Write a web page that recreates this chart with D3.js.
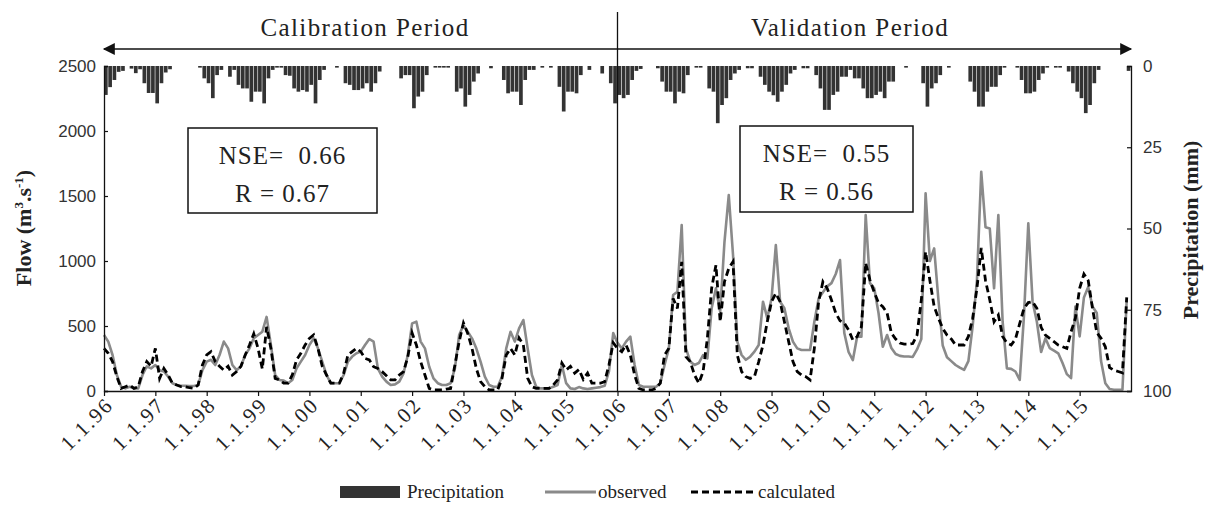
<!DOCTYPE html>
<html>
<head>
<meta charset="utf-8">
<script src="https://cdn.jsdelivr.net/npm/d3@7"></script>
<style>
  body { margin: 0; background: #fff; }
  svg { display: block; }
  .tick text { font-family: "Liberation Sans", Arial, sans-serif; fill: #333; }
  .serif { font-family: "Liberation Serif", "Times New Roman", serif; fill: #222; }
</style>
</head>
<body>
<svg id="chart"></svg>
<script>
// monthly series, Jan 1996 .. Dec 2015 (240 months)

const tickLabels = ['1.1.96','1.1.97','1.1.98','1.1.99','1.1.00','1.1.01','1.1.02','1.1.03','1.1.04','1.1.05',
                    '1.1.06','1.1.07','1.1.08','1.1.09','1.1.10','1.1.11','1.1.12','1.1.13','1.1.14','1.1.15'];

// precipitation (mm)
const precipitation = [
  8.9, 6.5, 4.3, 1.8, 1.5, 0, 0.8, 2.2, 1.0, 5.3, 8.3, 8.3,
  11.5, 5.3, 2.0, 1.0, 0, 0, 0, 0, 0, 0, 0.5, 3.8,
  5.3, 9.9, 2.8, 1.2, 0, 3.3, 1.2, 5.8, 6.9, 6.9, 11.0, 7.9,
  7.9, 11.5, 3.8, 1.2, 0.5, 0.5, 2.8, 3.0, 6.9, 7.9, 7.4, 7.9,
  5.8, 11.5, 4.3, 1.2, 0, 0, 0.5, 0, 5.3, 5.8, 7.4, 7.4,
  6.9, 5.3, 7.9, 5.3, 1.7, 0, 0, 0, 0, 3.8, 2.8, 2.8,
  13.0, 9.4, 7.9, 2.8, 0, 0.5, 0.5, 0.5, 0.5, 0, 7.9, 6.9,
  12.5, 8.9, 4.8, 2.3, 0, 0, 0.7, 0, 0, 4.3, 8.4, 7.9,
  7.9, 12.0, 4.3, 1.2, 1.2, 0, 0.5, 0, 0.5, 0, 6.4, 14.0,
  7.9, 7.9, 8.4, 2.8, 0, 1.2, 0, 0, 2.3, 0, 5.3, 11.5,
  8.9, 9.9, 8.9, 4.3, 1.5, 0.9, 0, 0, 0, 0.7, 4.8, 7.9,
  7.9, 11.5, 7.9, 8.4, 2.8, 0, 0.5, 0.5, 0, 6.9, 7.9, 17.6,
  12.0, 9.9, 4.3, 2.3, 1.2, 0, 0.7, 0.7, 0, 3.3, 5.8, 7.9,
  9.0, 11.0, 7.9, 5.8, 2.3, 1.2, 0, 0.7, 0.7, 0, 2.8, 6.9,
  13.5, 13.5, 8.9, 7.9, 3.3, 3.3, 1.2, 3.8, 3.8, 6.9, 9.9, 9.9,
  8.9, 7.9, 9.9, 4.8, 4.8, 0, 0, 0.5, 0, 0, 0, 5.3,
  12.5, 6.9, 5.3, 2.8, 0, 0.5, 0, 0, 0, 0, 4.8, 7.9,
  12.5, 12.5, 7.9, 6.4, 6.4, 2.8, 0.5, 0, 0, 0.5, 4.3, 8.4,
  8.4, 7.9, 4.3, 2.3, 0.5, 0, 0.5, 0.5, 0, 1.7, 5.3, 7.9,
  9.9, 14.5, 12.0, 5.3, 1.2, 0, 0, 0, 0, 0, 0, 1.5
];

// observed flow (m3/s)
const observed = [
  431, 380, 277, 123, 33, 20, 33, 20, 20, 123, 190, 174,
  200, 160, 150, 110, 59, 46, 40, 40, 38, 38, 46, 160,
  226, 240, 200, 277, 380, 328, 200, 160, 190, 277, 328, 405,
  431, 456, 570, 354, 123, 85, 80, 60, 85, 174, 226, 277,
  354, 405, 328, 226, 123, 60, 60, 60, 123, 226, 265, 290,
  303, 354, 400, 380, 174, 110, 72, 46, 51, 72, 136, 277,
  520, 533, 380, 328, 187, 97, 60, 46, 46, 60, 174, 431,
  507, 456, 405, 328, 226, 110, 46, 33, 33, 110, 328, 456,
  380, 482, 546, 328, 123, 33, 20, 20, 20, 33, 46, 200,
  60, 20, 15, 30, 20, 15, 20, 25, 30, 40, 150, 446,
  370, 328, 380, 418, 200, 46, 33, 33, 33, 33, 60, 200,
  328, 738, 764, 1277, 328, 226, 200, 215, 277, 251, 636, 790,
  610, 1148, 1507, 1046, 380, 277, 240, 264, 303, 354, 687, 560,
  712, 1122, 687, 636, 482, 380, 328, 315, 315, 315, 533, 712,
  760, 805, 830, 900, 1007, 446, 300, 238, 418, 418, 1353, 830,
  790, 600, 340, 431, 330, 285, 270, 265, 265, 262, 320, 400,
  1520, 1000, 1097, 700, 350, 260, 230, 200, 180, 162, 230, 500,
  850, 1687, 1260, 1250, 790, 1354, 533, 174, 170, 150, 85, 584,
  1290, 687, 533, 300, 405, 330, 310, 290, 215, 130, 100, 650,
  420, 720, 800, 650, 600, 230, 60, 15, 10, 10, 10, 700
];

// calculated flow (m3/s)
const calculated = [
  328, 290, 226, 110, 20, 33, 46, 20, 33, 150, 226, 190,
  328, 97, 174, 123, 59, 46, 33, 33, 25, 20, 46, 200,
  277, 303, 226, 190, 160, 190, 123, 150, 190, 277, 354, 440,
  328, 170, 494, 328, 97, 85, 60, 60, 123, 240, 290, 354,
  405, 431, 328, 190, 123, 60, 60, 60, 136, 277, 303, 328,
  303, 251, 240, 187, 174, 149, 118, 85, 85, 123, 149, 264,
  446, 354, 226, 123, 20, 8, 8, 8, 15, 20, 200, 380,
  523, 443, 328, 174, 72, 33, 8, 8, 8, 97, 277, 328,
  277, 408, 354, 100, 33, 20, 20, 20, 20, 46, 85, 215,
  162, 190, 138, 165, 90, 138, 60, 60, 60, 72, 200, 370,
  328, 303, 354, 277, 123, 20, 8, 8, 8, 20, 60, 277,
  328, 712, 636, 994, 264, 226, 123, 60, 149, 405, 790, 968,
  533, 841, 943, 994, 277, 149, 110, 97, 110, 226, 354, 533,
  687, 751, 687, 533, 380, 226, 149, 123, 110, 85, 328, 687,
  841, 790, 700, 600, 540, 523, 470, 392, 418, 494, 984, 853,
  760, 677, 648, 600, 446, 400, 369, 360, 360, 365, 430, 700,
  1071, 850, 650, 560, 482, 430, 400, 354, 354, 354, 420, 560,
  790, 1100, 850, 700, 533, 584, 420, 370, 354, 400, 520, 636,
  680, 687, 636, 490, 430, 405, 380, 354, 340, 328, 456, 560,
  790, 900, 850, 636, 450, 405, 340, 180, 160, 150, 140, 720
];

// 1. canvas
const width = 1211;
const height = 505;
const plot = { left: 104, right: 1131, top: 66, bottom: 391 };

const svg = d3.select('#chart')
    .attr('width', width)
    .attr('height', height);

// 2. scales
const months = d3.range(precipitation.length);
const x = d3.scaleLinear().domain([0, 240]).range([plot.left, plot.right]);
const yFlow = d3.scaleLinear().domain([0, 2500]).range([plot.bottom, plot.top]);
const yPrec = d3.scaleLinear().domain([0, 100]).range([plot.top, plot.bottom]);

// 3. precipitation bars hanging from the top
svg.append('g')
    .selectAll('rect')
    .data(months)
    .enter()
    .append('rect')
        .attr('x', d => x(d))
        .attr('width', x(1) - x(0) - 0.6)
        .attr('y', plot.top)
        .attr('height', d => yPrec(precipitation[d]) - plot.top)
        .attr('fill', '#333');

// 4. flow lines
const line = series => d3.line()
    .x(d => x(d))
    .y(d => yFlow(series[d]))(months);

svg.append('path')
    .attr('d', line(observed))
    .attr('fill', 'none')
    .attr('stroke', '#8a8a8a')
    .attr('stroke-width', 2.6)
    .attr('stroke-linejoin', 'round');

svg.append('path')
    .attr('d', line(calculated))
    .attr('fill', 'none')
    .attr('stroke', '#000')
    .attr('stroke-width', 2.8)
    .attr('stroke-dasharray', '7,4');

// 5. axes
const leftAxis = svg.append('g')
    .attr('transform', `translate(${plot.left},0)`)
    .call(d3.axisRight(yFlow).tickValues(d3.range(0, 2501, 500)).tickSize(4).tickFormat(d3.format('d')));
leftAxis.selectAll('.tick text').attr('x', -8).attr('text-anchor', 'end').style('font-size', '17px');

const rightAxis = svg.append('g')
    .attr('transform', `translate(${plot.right},0)`)
    .call(d3.axisLeft(yPrec).tickValues([0, 25, 50, 75, 100]).tickSize(4));
rightAxis.selectAll('.tick text').attr('x', 12).attr('text-anchor', 'start').style('font-size', '17px');

const bottomAxis = svg.append('g')
    .attr('transform', `translate(0,${plot.bottom})`)
    .call(d3.axisBottom(x)
        .tickValues(d3.range(0, 240, 12))
        .tickFormat((d, i) => tickLabels[i])
        .tickSize(5)
        .tickSizeOuter(0));
bottomAxis.selectAll('.tick text')
    .style('font-family', '"Liberation Serif", "Times New Roman", serif')
    .style('font-size', '21px')
    .style('letter-spacing', '2px')
    .style('fill', '#222')
    .attr('text-anchor', 'end')
    .attr('transform', 'translate(5,10) rotate(-45)')
    .attr('dy', '0.35em')
    .attr('y', 0)
    .attr('x', 0);

svg.selectAll('.domain').attr('stroke', '#111').attr('stroke-width', 1.3);
svg.selectAll('.tick line').attr('stroke', '#111').attr('stroke-width', 1.2);

// 6. period divider and arrow
svg.append('line')
    .attr('x1', x(120)).attr('x2', x(120))
    .attr('y1', 12).attr('y2', plot.bottom)
    .attr('stroke', '#111').attr('stroke-width', 1.3);

const defs = svg.append('defs');
defs.append('marker')
    .attr('id', 'head')
    .attr('viewBox', '0 0 10 10')
    .attr('refX', 9).attr('refY', 5)
    .attr('markerWidth', 14).attr('markerHeight', 12)
    .attr('markerUnits', 'userSpaceOnUse')
    .attr('orient', 'auto-start-reverse')
    .append('path')
        .attr('d', 'M0,0 L10,5 L0,10 Z')
        .attr('fill', '#111');

svg.append('line')
    .attr('x1', plot.left).attr('x2', plot.right)
    .attr('y1', 49).attr('y2', 49)
    .attr('stroke', '#111').attr('stroke-width', 1.6)
    .attr('marker-start', 'url(#head)')
    .attr('marker-end', 'url(#head)');

svg.append('text').attr('class', 'serif')
    .attr('x', 365).attr('y', 36)
    .attr('text-anchor', 'middle')
    .style('font-size', '25px').style('letter-spacing', '1.4px')
    .text('Calibration Period');

svg.append('text').attr('class', 'serif')
    .attr('x', 850).attr('y', 36)
    .attr('text-anchor', 'middle')
    .style('font-size', '25px').style('letter-spacing', '1.4px')
    .text('Validation Period');

// 7. statistics boxes
const boxes = [
    { x0: 188, x1: 377, y0: 128, y1: 213, nse: 'NSE=\u00a0\u00a00.66', r: 'R = 0.67' },
    { x0: 740, x1: 913, y0: 126, y1: 212, nse: 'NSE=\u00a0\u00a00.55', r: 'R = 0.56' }
];
boxes.forEach(b => {
    svg.append('rect')
        .attr('x', b.x0).attr('y', b.y0)
        .attr('width', b.x1 - b.x0).attr('height', b.y1 - b.y0)
        .attr('fill', '#fff').attr('stroke', '#111').attr('stroke-width', 1.5);
    svg.append('text').attr('class', 'serif')
        .attr('x', (b.x0 + b.x1) / 2).attr('y', b.y0 + 36)
        .attr('text-anchor', 'middle').style('font-size', '25px').style('letter-spacing', '1px')
        .text(b.nse);
    svg.append('text').attr('class', 'serif')
        .attr('x', (b.x0 + b.x1) / 2).attr('y', b.y0 + 74)
        .attr('text-anchor', 'middle').style('font-size', '25px').style('letter-spacing', '1px')
        .text(b.r);
});

// 8. axis titles
const flowTitle = svg.append('text').attr('class', 'serif')
    .attr('transform', 'translate(31,228) rotate(-90)')
    .attr('text-anchor', 'middle')
    .style('font-size', '22px').style('font-weight', 'bold');
flowTitle.append('tspan').text('Flow (m');
flowTitle.append('tspan').attr('dy', -8).style('font-size', '13px').text('3');
flowTitle.append('tspan').attr('dy', 8).text('.s');
flowTitle.append('tspan').attr('dy', -8).style('font-size', '13px').text('-1');
flowTitle.append('tspan').attr('dy', 8).text(')');

svg.append('text').attr('class', 'serif')
    .attr('transform', 'translate(1198,230) rotate(-90)')
    .attr('text-anchor', 'middle')
    .style('font-size', '22px').style('font-weight', 'bold')
    .text('Precipitation (mm)');

// 9. legend
const legend = svg.append('g').attr('transform', 'translate(0,492)');
legend.append('rect').attr('x', 340).attr('y', -6).attr('width', 60).attr('height', 12).attr('fill', '#333');
legend.append('text').attr('class', 'serif').attr('x', 407).attr('y', 6).style('font-size', '19px').text('Precipitation');
legend.append('line').attr('x1', 545).attr('x2', 596).attr('y1', 0).attr('y2', 0)
    .attr('stroke', '#8a8a8a').attr('stroke-width', 3);
legend.append('text').attr('class', 'serif').attr('x', 598).attr('y', 6).style('font-size', '19px').text('observed');
legend.append('line').attr('x1', 691).attr('x2', 756).attr('y1', 0).attr('y2', 0)
    .attr('stroke', '#000').attr('stroke-width', 3).attr('stroke-dasharray', '7,4');
legend.append('text').attr('class', 'serif').attr('x', 758).attr('y', 6).style('font-size', '19px').text('calculated');
</script>
</body>
</html>
